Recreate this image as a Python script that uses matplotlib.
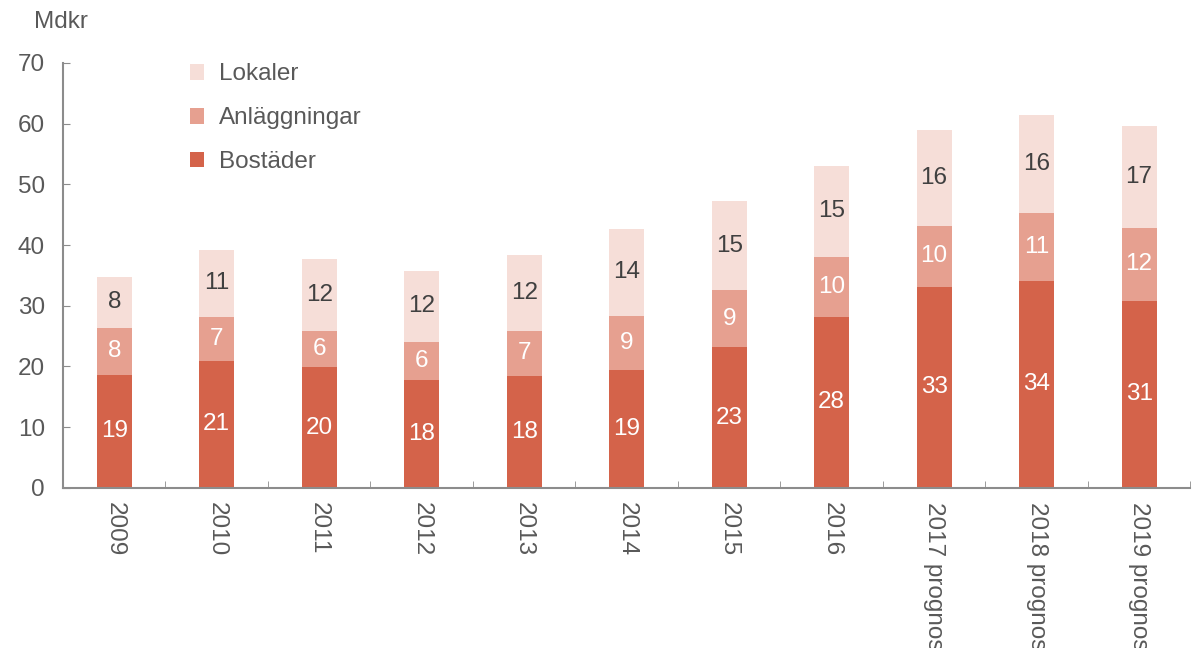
import numpy as np
import matplotlib
matplotlib.use("Agg")
import matplotlib.pyplot as plt

# ── Data (Mdkr) ───────────────────────────────────────────────
years = ["2009", "2010", "2011", "2012", "2013", "2014", "2015", "2016",
         "2017 prognos", "2018 prognos", "2019 prognos"]
bostader = [18.6, 20.9, 19.9, 17.8, 18.5, 19.4, 23.2, 28.2, 33.1, 34.1, 30.8]
anlaggningar = [7.8, 7.3, 6.0, 6.3, 7.4, 8.9, 9.4, 9.9, 10.1, 11.2, 12.0]
lokaler = [8.4, 11.0, 11.8, 11.6, 12.4, 14.4, 14.6, 14.9, 15.8, 16.1, 16.8]

series = [
    ("Bostäder", bostader, "#D4634A", "white"),
    ("Anläggningar", anlaggningar, "#E6A090", "white"),
    ("Lokaler", lokaler, "#F6DED8", "#404040"),
]

plt.rcParams["font.family"] = ["Liberation Sans", "DejaVu Sans"]
GREY = "#595959"
AXIS = "#8C8C8C"
FS = 17.5

fig = plt.figure(figsize=(11.98, 6.48), dpi=100)
ax = fig.add_axes([0.0526, 0.247, 0.941, 0.656])

x = np.arange(len(years))
bottom = np.zeros(len(years))
handles = []
for name, vals, color, tcol in series:
    vals = np.array(vals)
    b = ax.bar(x, vals, width=0.34, bottom=bottom, color=color, label=name)
    handles.append(b)
    for xi, v, b0 in zip(x, vals, bottom):
        ax.text(xi, b0 + v / 2, f"{round(v):d}", ha="center", va="center",
                color=tcol, fontsize=FS)
    bottom += vals

ax.set_xlim(-0.5, len(years) - 0.5)
ax.set_ylim(0, 70)
ax.set_yticks(range(0, 71, 10))
ax.set_xticks(x)
ax.set_xticklabels(years, rotation=-90, va="top", ha="center",
                   fontsize=FS, color=GREY)
ax.set_xticks(np.arange(0.5, len(years), 1.0), minor=True)
ax.tick_params(axis="x", which="major", length=0, pad=10)
ax.tick_params(axis="x", which="minor", direction="in", length=5, color=AXIS)
ax.tick_params(axis="y", direction="in", length=5, color=AXIS,
               labelsize=FS, labelcolor=GREY, pad=13)

for s in ["top", "right"]:
    ax.spines[s].set_visible(False)
for s in ["left", "bottom"]:
    ax.spines[s].set_color(AXIS)
    ax.spines[s].set_linewidth(1.5)

fig.text(0.028, 0.966, "Mdkr", fontsize=FS, color=GREY, ha="left", va="center")

leg = ax.legend(handles[::-1], [h.get_label() for h in handles[::-1]],
                loc="upper left", bbox_to_anchor=(0.093, 1.05), frameon=False,
                fontsize=FS, handlelength=0.6, handleheight=0.6,
                labelspacing=0.9, handletextpad=0.6)
for t in leg.get_texts():
    t.set_color(GREY)

fig.savefig("out.png", dpi=100)
